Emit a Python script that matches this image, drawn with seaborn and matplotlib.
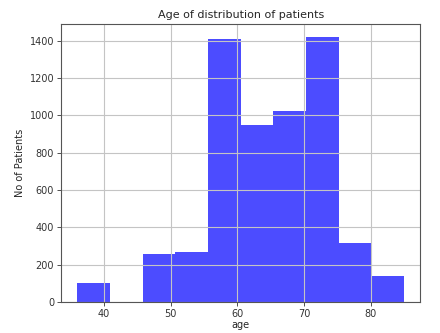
import numpy as np
import pandas as pd
import matplotlib
matplotlib.use("Agg")
import matplotlib.pyplot as plt
import seaborn as sns

# Age histogram: 10 equal-width bins between the youngest and oldest patient
age_min = 36.0
age_max = 85.0
bin_counts = [101, 0, 256, 270, 1408, 950, 1022, 1418, 315, 142]
x_ticks = [40, 50, 60, 70, 80]
y_ticks = [0, 200, 400, 600, 800, 1000, 1200, 1400]

edges = np.linspace(age_min, age_max, len(bin_counts) + 1)
centers = (edges[:-1] + edges[1:]) / 2
df = pd.DataFrame({"age": centers, "count": bin_counts})

sns.set_style("white")
plt.rcParams.update({
    "font.family": ["DejaVu Sans"],
    "axes.edgecolor": "#555555",
    "axes.linewidth": 0.8,
    "grid.color": "#c4c4c4",
    "grid.linewidth": 0.8,
    "xtick.bottom": True,
    "ytick.left": True,
    "xtick.color": "#333333",
    "ytick.color": "#333333",
})

fig = plt.figure(figsize=(4.4, 3.33), dpi=100)
ax = fig.add_axes([0.139, 0.093, 0.816, 0.835])

sns.histplot(data=df, x="age", weights="count", bins=edges.tolist(),
             color="blue", alpha=0.7, linewidth=0, ax=ax)

ax.set_xticks(x_ticks)
ax.set_yticks(y_ticks)
ax.grid(True)
ax.set_axisbelow("line")
ax.tick_params(labelsize=7, length=3, width=0.6, pad=2)
ax.set_title("Age of distribution of patients", fontsize=8, pad=4)
ax.set_xlabel("age", fontsize=7, labelpad=1)
ax.set_ylabel("No of Patients", fontsize=7, labelpad=3)

fig.savefig("out.png", dpi=100)
